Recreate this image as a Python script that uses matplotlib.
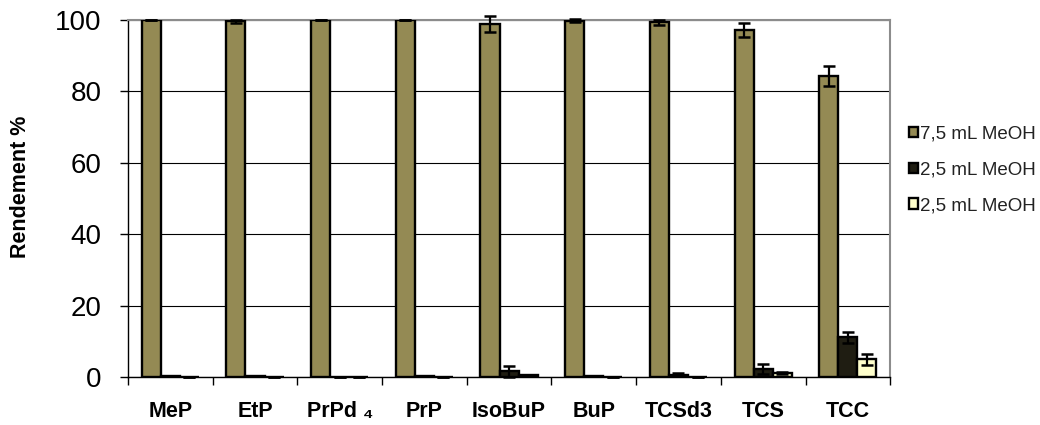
import matplotlib.pyplot as plt
import numpy as np

plt.rcParams['font.family'] = ['Liberation Sans', 'DejaVu Sans']

categories = ["MeP", "EtP", "PrPd \u2084", "PrP", "IsoBuP", "BuP", "TCSd3", "TCS", "TCC"]
labels = ["7,5 mL MeOH", "2,5 mL MeOH", "2,5 mL MeOH"]

s1 = [100.0, 99.6, 100.0, 100.0, 98.8, 99.8, 99.4, 97.2, 84.3]
e1 = [0.0, 0.4, 0.0, 0.0, 2.3, 0.4, 0.7, 2.0, 2.8]
s2 = [0.2, 0.4, 0.0, 0.2, 1.6, 0.3, 0.6, 2.2, 11.1]
e2 = [0.0, 0.0, 0.0, 0.0, 1.5, 0.0, 0.4, 1.5, 1.6]
s3 = [0.0, 0.1, 0.0, 0.0, 0.6, 0.1, 0.1, 1.0, 4.9]
e3 = [0.0, 0.0, 0.0, 0.0, 0.0, 0.0, 0.0, 0.3, 1.65]

colors = ["#948A54", "#1F1D12", "#FFFFCC"]

fig = plt.figure(figsize=(10.4, 4.25), dpi=100)
ax = fig.add_axes([0.123, 0.113, 0.733, 0.840])

x = np.arange(len(categories))
w = 0.225
for i, (vals, errs) in enumerate([(s1, e1), (s2, e2), (s3, e3)]):
    ax.bar(x + (i - 1) * w, vals, w, color=colors[i], edgecolor="black",
           linewidth=1.7, label=labels[i], zorder=3)
    ax.errorbar(x + (i - 1) * w, vals, yerr=errs, fmt="none", ecolor="black",
                elinewidth=1.6, capsize=4.5, capthick=1.8, zorder=4, clip_on=False)

ax.set_xlim(-0.5, len(categories) - 0.5)
ax.set_ylim(0, 100)
ax.set_yticks(range(0, 101, 20))
ax.yaxis.grid(True, color="black", linewidth=0.8, zorder=0)
ax.set_axisbelow(True)

ax.set_xticks(x)
ax.set_xticklabels(categories, fontsize=15.5, fontweight="bold")
ax.set_xticks(np.arange(-0.5, len(categories), 1), minor=True)
ax.tick_params(axis="x", which="major", length=0, pad=17)
ax.tick_params(axis="x", which="minor", length=6, width=1, direction="out")
ax.tick_params(axis="y", labelsize=20, length=6, width=1, direction="out", pad=13)

for s in ["top", "right"]:
    ax.spines[s].set_color("#8c8c8c")
    ax.spines[s].set_linewidth(1.5)
for s in ["left", "bottom"]:
    ax.spines[s].set_color("black")
    ax.spines[s].set_linewidth(1)

fig.text(0.02, 0.56, "Rendement %", rotation=90, fontsize=15.5, fontweight="bold",
         ha="center", va="center")

leg = ax.legend(loc="upper left", bbox_to_anchor=(1.015, 0.725), frameon=False,
                fontsize=13.5, handlelength=0.45, handleheight=0.45, handletextpad=0.15,
                labelspacing=1.0, borderaxespad=0)
for t in leg.get_texts():
    t.set_color("#222222")

fig.savefig("out.png", dpi=100)
